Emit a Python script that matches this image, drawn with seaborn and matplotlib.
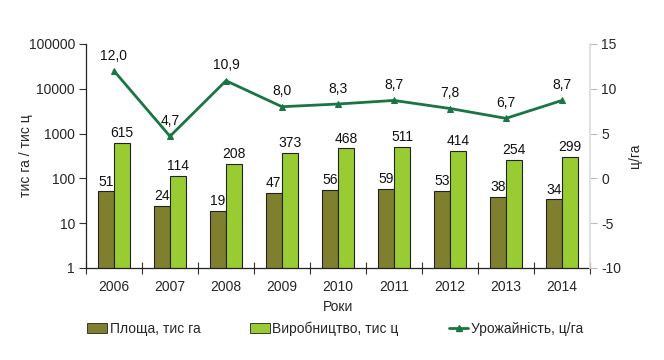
import numpy as np
import pandas as pd
import matplotlib
matplotlib.use("Agg")
import matplotlib.pyplot as plt
import seaborn as sns
from matplotlib.ticker import FixedLocator, FixedFormatter, NullLocator

years = ["2006", "2007", "2008", "2009", "2010", "2011", "2012", "2013", "2014"]
area = [51, 24, 19, 47, 56, 59, 53, 38, 34]
production = [615, 114, 208, 373, 468, 511, 414, 254, 299]
yield_cha = [12.0, 4.7, 10.9, 8.0, 8.3, 8.7, 7.8, 6.7, 8.7]

area_label = "Площа, тис га"
prod_label = "Виробництво, тис ц"
yield_label = "Урожайність, ц/га"

olive = "#7f7f30"
light_green = "#99cc33"
line_green = "#1a7545"

sns.set_theme(style="white")
plt.rcParams["font.family"] = ["Liberation Sans", "DejaVu Sans"]
fs = 10

df = pd.DataFrame({
    "year": years * 2,
    "value": area + production,
    "series": [area_label] * len(years) + [prod_label] * len(years),
})

fig = plt.figure(figsize=(6.64, 3.6), dpi=100)
ax = fig.add_axes([0.1295, 0.2556, 0.759, 0.6222])

sns.barplot(data=df, x="year", y="value", hue="series",
            palette=[olive, light_green], edgecolor="#222222", linewidth=0.8,
            width=0.58, gap=0, ax=ax, legend=False, saturation=1)
ax.set_yscale("log")
ax.set_ylim(1, 100000)
ax.set_xlim(-0.5, len(years) - 0.5)

for cont, vals in zip(ax.containers, [area, production]):
    ax.bar_label(cont, labels=[str(v) for v in vals], padding=2,
                 fontsize=fs, color="#111111")

ax.yaxis.set_major_locator(FixedLocator([1, 10, 100, 1000, 10000, 100000]))
ax.yaxis.set_major_formatter(FixedFormatter(["1", "10", "100", "1000", "10000", "100000"]))
ax.yaxis.set_minor_locator(NullLocator())
ax.tick_params(axis="y", which="major", left=True, length=5, width=0.8,
               color="#333333", labelsize=fs, pad=3)
ax.tick_params(axis="x", which="major", length=0, labelsize=fs, pad=9)
ax.set_xticks(np.arange(len(years) + 1) - 0.5, minor=True)
ax.tick_params(axis="x", which="minor", bottom=True, length=8, width=0.8,
               direction="inout", color="#333333")

for s in ["top", "right"]:
    ax.spines[s].set_visible(False)
for s in ["left", "bottom"]:
    ax.spines[s].set_color("#222222")
    ax.spines[s].set_linewidth(0.9)

ax.set_xlabel("Роки", fontsize=fs, labelpad=4)
ax.set_ylabel("тис га / тис ц", fontsize=fs)
ax.yaxis.set_label_coords(-0.105, 0.5)

ax2 = ax.twinx()
x_pos = np.arange(len(years))
sns.lineplot(x=x_pos, y=yield_cha, ax=ax2, color=line_green, linewidth=2,
             marker="^", markersize=5, markeredgecolor=line_green, legend=False)
ax2.set_ylim(-10, 15)
ax2.set_yticks([-10, -5, 0, 5, 10, 15])
ax2.set_yticklabels(["-10", "-5", "0", "5", "10", "15"])
ax2.tick_params(axis="y", right=True, length=5, width=0.8, color="#bbbbbb",
                labelsize=fs, pad=3)
for s in ["top", "left", "bottom"]:
    ax2.spines[s].set_visible(False)
ax2.spines["right"].set_color("#dddddd")
ax2.set_ylabel("ц/га", fontsize=fs)
ax2.yaxis.set_label_coords(1.075, 0.5)
for xi, v in zip(x_pos, yield_cha):
    ax2.annotate(f"{v:.1f}".replace(".", ","), (xi, v), xytext=(0, 6),
                 textcoords="offset points", ha="center", va="bottom",
                 fontsize=fs, color="#111111")

handles = [
    plt.Rectangle((0, 0), 1, 1, facecolor=olive, edgecolor="#222222", linewidth=0.6),
    plt.Rectangle((0, 0), 1, 1, facecolor=light_green, edgecolor="#222222", linewidth=0.6),
    plt.Line2D([0], [0], color=line_green, linewidth=2, marker="^", markersize=5),
]
fig.legend(handles, [area_label, prod_label, yield_label], loc="center",
           bbox_to_anchor=(0.505, 0.088), ncol=3, frameon=False, fontsize=fs,
           handlelength=1.4, handletextpad=0.2, columnspacing=3.6,
           borderpad=0.1)

fig.savefig("out.png", dpi=100)
